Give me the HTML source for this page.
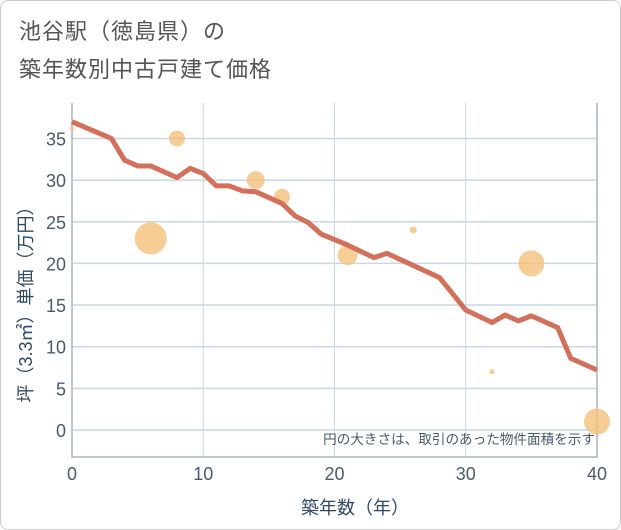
<!DOCTYPE html>
<html><head><meta charset="utf-8"><style>
body{margin:0;background:#fff;font-family:"Liberation Sans","Noto Sans CJK JP",sans-serif;}
#wrap{position:relative;width:619px;height:528px;border:1px solid #ccc;border-radius:8px;background:#fff;overflow:hidden}
.t{position:absolute;left:18px;color:#555;font-size:22px;letter-spacing:1px}
</style></head><body>
<div id="wrap">
<div class="t" style="top:13px">池谷駅（徳島県）の</div>
<div class="t" style="top:51px">築年数別中古戸建て価格</div>
<svg id="c" width="621" height="530" style="position:absolute;left:-1px;top:-1px"></svg>
</div>
<script>
const lineYears=[0,3,4,5,6,8,9,10,11,12,13,14,16,17,18,19,21,23,24,28,30,32,33,34,35,37,38,40];
const lineValues=[37,35,32.4,31.7,31.7,30.3,31.4,30.8,29.3,29.3,28.7,28.6,27.2,25.7,24.9,23.5,22.2,20.7,21.2,18.3,14.4,12.9,13.8,13.1,13.7,12.3,8.6,7.2];
const bubbleYears=[0,6,8,14,16,21,26,32,35,40];
const bubbleValues=[36.2,23,35,30,28,21,24,7,20,1];
const bubbleRadii=[2,16,8,9,8,10,3.5,2.5,13,13];
const xTicks=[0,10,20,30,40];
const yTicks=[0,5,10,15,20,25,30,35];
const L=72,R=597,T=103,B=457;
const x=v=>L+(v/40)*(R-L);
const y=v=>430-v*8.33;
const svg=document.getElementById('c');const NS='http://www.w3.org/2000/svg';
function mk(t,a){const e=document.createElementNS(NS,t);for(const k in a)e.setAttribute(k,a[k]);svg.appendChild(e);return e;}
yTicks.forEach(v=>{const g=mk('line',{x1:L,x2:R,y1:y(v),y2:y(v),stroke:'#c9d6e6','stroke-width':1.5});


const t=mk('text',{x:L-6,y:y(v)+7,'text-anchor':'end','font-size':18,fill:'#4a5a70'});t.textContent=v;

});
xTicks.forEach(v=>{const g=mk('line',{x1:x(v),x2:x(v),y1:T,y2:B,stroke:'#c9d6e6','stroke-width':1});


const t=mk('text',{x:x(v),y:B+23,'text-anchor':'middle','font-size':18,fill:'#4a5a70'});t.textContent=v;

});
const ax=mk('path',{d:`M${L} ${T}V${B}H${R}V${T}`,fill:'none',stroke:'#a8b4c4','stroke-width':1.5});


bubbleYears.forEach((v,i)=>{const c=mk('circle',{cx:x(v),cy:y(bubbleValues[i]),r:bubbleRadii[i],fill:'#f3c07a','fill-opacity':0.8});

});
const p=mk('polyline',{points:lineYears.map((v,i)=>x(v)+','+y(lineValues[i])).join(' '),fill:'none',stroke:'#d4705a','stroke-width':5,'stroke-linejoin':'round'});


const n=mk('text',{x:R-2,y:444,'text-anchor':'end','font-size':13.6,fill:'#4a5a70'});n.textContent='円の大きさは、取引のあった物件面積を示す';


const xl=mk('text',{x:355,y:514,'text-anchor':'middle','font-size':18,fill:'#2f4a66'});xl.textContent='築年数（年）';


const yl=mk('text',{x:0,y:0,'text-anchor':'middle','font-size':18,fill:'#2f4a66',transform:'translate(32,300) rotate(-90)'});yl.textContent='坪（3.3㎡）単価（万円）';


</script>
</body></html>
